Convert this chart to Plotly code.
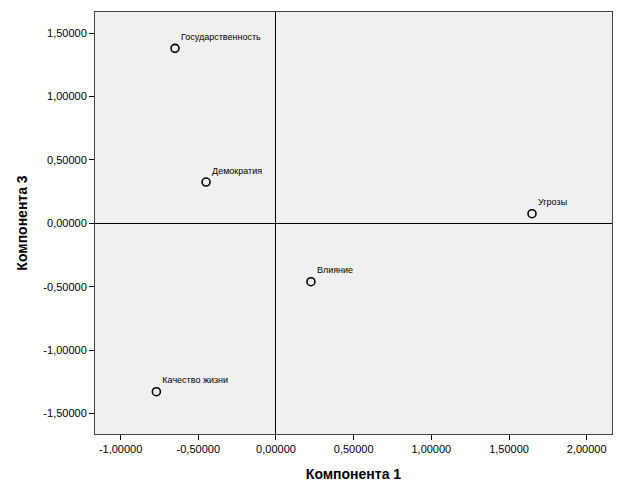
import plotly.graph_objects as go

labels = ["Государственность", "Демократия", "Угрозы", "Влияние", "Качество жизни"]
comp1 = [-0.650, -0.450, 1.648, 0.225, -0.770]
comp3 = [1.381, 0.326, 0.076, -0.461, -1.329]

x_ticks = [-1.0, -0.5, 0.0, 0.5, 1.0, 1.5, 2.0]
x_ticktext = ["-1,00000", "-0,50000", "0,00000", "0,50000", "1,00000", "1,50000", "2,00000"]
y_ticks = [-1.5, -1.0, -0.5, 0.0, 0.5, 1.0, 1.5]
y_ticktext = ["-1,50000", "-1,00000", "-0,50000", "0,00000", "0,50000", "1,00000", "1,50000"]

fig = go.Figure()
fig.add_trace(go.Scatter(
    x=comp1, y=comp3, mode="markers+text", text=labels,
    textposition="top right",
    textfont=dict(family="Liberation Sans, Arial", size=9, color="black"),
    marker=dict(symbol="circle-open", size=8, color="black", line=dict(width=1.6, color="black")),
    cliponaxis=False, hoverinfo="skip", showlegend=False,
))

fig.update_layout(
    width=617, height=492,
    margin=dict(l=87, r=13, t=4, b=66),
    paper_bgcolor="white", plot_bgcolor="#f0f0f0",
    font=dict(family="Liberation Sans, Arial", size=11, color="black"),
    xaxis=dict(
        range=[-1.165, 2.163], tickvals=x_ticks, ticktext=x_ticktext,
        ticks="outside", ticklen=5, tickcolor="black", showgrid=False,
        zeroline=True, zerolinecolor="black", zerolinewidth=1.2,
        showline=True, linecolor="#444", linewidth=1, mirror=True,
        title=dict(text="<b>Компонента 1</b>", font=dict(size=14), standoff=14),
        tickfont=dict(size=11),
    ),
    yaxis=dict(
        range=[-1.663, 1.668], tickvals=y_ticks, ticktext=y_ticktext,
        ticks="outside", ticklen=5, tickcolor="black", showgrid=False,
        zeroline=True, zerolinecolor="black", zerolinewidth=1.2,
        showline=True, linecolor="#444", linewidth=1, mirror=True,
        title=dict(text="<b>Компонента 3</b>", font=dict(size=14), standoff=12),
        tickfont=dict(size=11),
    ),
)

fig.write_html("out.html")
